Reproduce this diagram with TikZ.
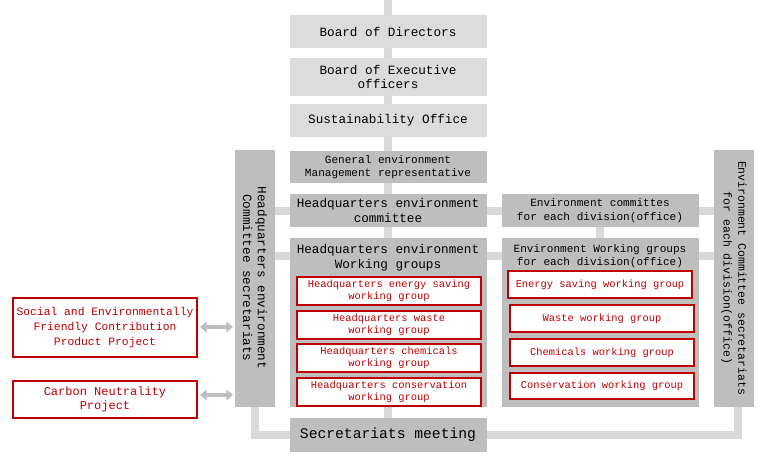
\documentclass[tikz,border=0pt]{standalone}
\usepackage{fontspec}
\setmainfont{Liberation Mono}
\usetikzlibrary{arrows.meta}
\definecolor{lg}{HTML}{DCDCDC}
\definecolor{dg}{HTML}{BEBEBE}
\definecolor{ln}{HTML}{D9D9D9}
\definecolor{rd}{HTML}{C00000}
\begin{document}
\begin{tikzpicture}[x=0.75pt,y=-0.75pt,
 light/.style={fill=lg,draw=none},
 dark/.style={fill=dg,draw=none},
 redbox/.style={fill=white,draw=rd,line width=1.4pt},
 rt/.style={text=rd,font=\fontsize{7.8}{9}\selectfont,align=center},
 bt/.style={font=\fontsize{9.5}{11}\selectfont,align=center},
 st/.style={font=\fontsize{8.3}{10}\selectfont,align=center},
 conn/.style={draw=ln,line width=6pt},
 dbl/.style={draw=dg,line width=3pt,{Triangle[length=5pt,width=8pt]}-{Triangle[length=5pt,width=8pt]}}]
\useasboundingbox (0,0) rectangle (768,460);
% connectors
\coordinate (top) at (388,0);
\coordinate (bl) at (255,435);
\coordinate (br) at (738,435);
\draw[conn] (top) -- (388,418);
\draw[conn] (275,211) -- (714,211);
\draw[conn] (275,256) -- (714,256);
\draw[conn] (600,227) -- (600,238);
\draw[conn] (255,407) -- (bl) -- (br) -- (738,407);
% boxes
\path[light] (290,15) rectangle (487,48); \node[bt] (bod) at (388,31.5) {Board of Directors};
\path[light] (290,58) rectangle (487,96); \node[bt] (boe) at (388,77) {Board of Executive\\officers};
\path[light] (290,104) rectangle (487,137); \node[bt] (so) at (388,120.5) {Sustainability Office};
\path[dark] (290,151) rectangle (487,183); \node[st] (ge) at (388,167) {General environment\\Management representative};
\path[dark] (290,194) rectangle (487,227); \node[bt] (hc) at (388,210.5) {Headquarters environment\\committee};
\path[dark] (290,238) rectangle (487,407); \node[bt] (hw) at (388,258) {Headquarters environment\\Working groups};
\path[dark] (290,418) rectangle (487,452); \node[bt,font=\fontsize{11}{12}\selectfont] (sm) at (388,435) {Secretariats meeting};
\path[dark] (235,150) rectangle (275,407); \node[bt,rotate=-90] (ls) at (255,278) {Headquarters environment\\Committee secretariats};
\path[dark] (714,150) rectangle (754,407); \node[bt,rotate=-90,font=\fontsize{8.6}{11}\selectfont] (rs) at (734,278) {Environment Committee secretariats\\for each division(office)};
\path[dark] (502,194) rectangle (699,227); \node[st] (dc) at (600,210.5) {Environment committes\\for each division(office)};
\path[dark] (502,238) rectangle (699,407); \node[st] (dw) at (600,256) {Environment Working groups\\for each division(office)};
% red boxes HQ
\path[redbox] (297,277) rectangle (481,305); \node[rt] (h1) at (389,291) {Headquarters energy saving\\working group};
\path[redbox] (297,311) rectangle (481,339); \node[rt] (h2) at (389,325) {Headquarters waste\\working group};
\path[redbox] (297,344) rectangle (481,372); \node[rt] (h3) at (389,358) {Headquarters chemicals\\working group};
\path[redbox] (297,378) rectangle (481,406); \node[rt] (h4) at (389,392) {Headquarters conservation\\working group};
% red boxes div
\path[redbox] (508,271) rectangle (692,298); \node[rt] (d1) at (600,284.5) {Energy saving working group};
\path[redbox] (510,305) rectangle (694,332); \node[rt] (d2) at (602,318.5) {Waste working group};
\path[redbox] (510,339) rectangle (694,366); \node[rt] (d3) at (602,352.5) {Chemicals working group};
\path[redbox] (510,373) rectangle (694,399); \node[rt] (d4) at (602,386) {Conservation working group};
% left projects
\path[redbox] (13,298) rectangle (197,357); \node[rt,font=\fontsize{8.5}{11}\selectfont] (p1) at (105,327.5) {Social and Environmentally\\Friendly Contribution\\Product Project};
\path[redbox] (13,381) rectangle (197,418); \node[rt,font=\fontsize{9}{11}\selectfont] (p2) at (105,399.5) {Carbon Neutrality\\Project};
\draw[dbl] (200,327) -- (233,327);
\draw[dbl] (200,395) -- (233,395);
\end{tikzpicture}
\end{document}
